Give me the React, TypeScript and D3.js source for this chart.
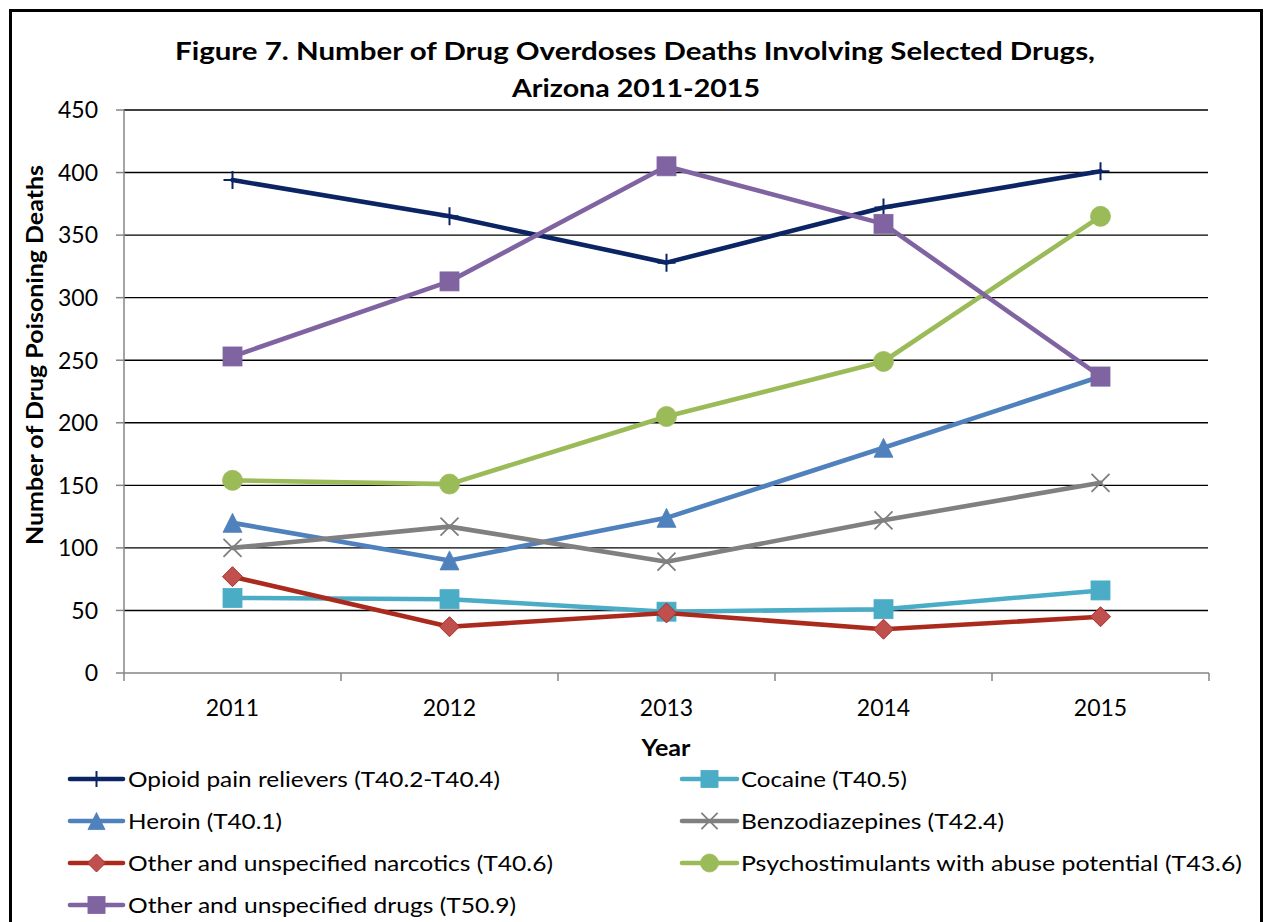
import React from "react";
import * as d3 from "d3";

// Categories and series values (deaths per year)
const years = ["2011", "2012", "2013", "2014", "2015"];
const yTicks = [0, 50, 100, 150, 200, 250, 300, 350, 400, 450];

const opioid = [394, 365, 328, 372, 401];
const cocaine = [60, 59, 49, 51, 66];
const heroin = [120, 90, 124, 180, 237];
const benzo = [100, 117, 89, 122, 152];
const narcotics = [77, 37, 48, 35, 45];
const psycho = [154, 151, 205, 249, 365];
const otherDrugs = [253, 313, 405, 359, 237];

const seriesNames = [
  "Opioid pain relievers (T40.2-T40.4)",
  "Cocaine (T40.5)",
  "Heroin (T40.1)",
  "Benzodiazepines (T42.4)",
  "Other and unspecified narcotics (T40.6)",
  "Psychostimulants with abuse potential (T43.6)",
  "Other and unspecified drugs (T50.9)",
];
const seriesValues = [opioid, cocaine, heroin, benzo, narcotics, psycho, otherDrugs];

type MarkerKind = "plus" | "square" | "triangle" | "x" | "diamond" | "circle";

const seriesStyle: { line: string; fill: string; stroke: string; marker: MarkerKind }[] = [
  { line: "#0B2464", fill: "none", stroke: "#0B2464", marker: "plus" },
  { line: "#4BACC6", fill: "#4BACC6", stroke: "#4BACC6", marker: "square" },
  { line: "#4F81BD", fill: "#4F81BD", stroke: "#4F81BD", marker: "triangle" },
  { line: "#808080", fill: "none", stroke: "#7F7F7F", marker: "x" },
  { line: "#AA2A1E", fill: "#C0504D", stroke: "#A8302A", marker: "diamond" },
  { line: "#9BBB59", fill: "#9BBB59", stroke: "#9BBB59", marker: "circle" },
  { line: "#8064A2", fill: "#8064A2", stroke: "#8064A2", marker: "square" },
];

// Legend layout: two columns, items filled row by row
const legendTextWidths = [372, 166, 154, 263, 425, 501, 388];

const FONT = "Lato, 'Open Sans', sans-serif";

function Marker({ kind, x, y, r, fill, stroke }: { kind: MarkerKind; x: number; y: number; r: number; fill: string; stroke: string }) {
  switch (kind) {
    case "plus":
      return (
        <path
          d={`M${x - r},${y}H${x + r}M${x},${y - r}V${y + r}`}
          stroke={stroke}
          strokeWidth={2}
          fill="none"
        />
      );
    case "x":
      return (
        <path
          d={`M${x - r},${y - r}L${x + r},${y + r}M${x - r},${y + r}L${x + r},${y - r}`}
          stroke={stroke}
          strokeWidth={1.8}
          fill="none"
        />
      );
    case "square":
      return <rect x={x - r} y={y - r} width={2 * r} height={2 * r} fill={fill} stroke={stroke} strokeWidth={0.8} />;
    case "triangle":
      return (
        <path d={`M${x},${y - r}L${x + r},${y + r}L${x - r},${y + r}Z`} fill={fill} stroke={stroke} strokeWidth={0.8} />
      );
    case "diamond":
      return (
        <path
          d={`M${x},${y - r}L${x + r},${y}L${x},${y + r}L${x - r},${y}Z`}
          fill={fill}
          stroke={stroke}
          strokeWidth={1}
        />
      );
    case "circle":
      return <circle cx={x} cy={y} r={r} fill={fill} stroke={stroke} strokeWidth={0.8} />;
  }
  return null;
}

export default function App() {
  const W = 1264;
  const H = 922;
  const plotLeft = 124;
  const plotRight = 1209;
  const plotTop = 110;
  const plotBottom = 673;

  const x = d3.scaleBand<string>().domain(years).range([plotLeft, plotRight]).padding(0);
  const y = d3.scaleLinear().domain([0, 450]).range([plotBottom, plotTop]);
  const cx = (yr: string) => (x(yr) as number) + x.bandwidth() / 2;

  const line = d3
    .line<number>()
    .x((_, i) => cx(years[i]))
    .y((d) => y(d));

  const markerR: Record<MarkerKind, number> = {
    plus: 9,
    x: 9,
    square: 9.5,
    triangle: 9.5,
    diamond: 10,
    circle: 10,
  };

  const boundaries = [...years.map((yr) => x(yr) as number), plotRight];

  const legendRowY = [779, 821, 863, 905];
  const legendCols = [
    { lineX0: 70, lineX1: 123, textX: 128 },
    { lineX0: 682, lineX1: 737, textX: 741 },
  ];

  return (
    <svg
      width={W}
      height={H}
      viewBox={`0 0 ${W} ${H}`}
      style={{ position: "absolute", left: 0, top: 0, background: "#fff" }}
      fontFamily={FONT}
    >
      <rect x={0} y={0} width={W} height={H} fill="#fff" />
      {/* outer frame */}
      <rect x={10.5} y={10.5} width={1251} height={1000} fill="none" stroke="#000" strokeWidth={3} />

      {/* title */}
      <text x={175} y={60} fontSize={25.5} fontWeight={700} textLength={920} lengthAdjust="spacingAndGlyphs">
        Figure 7. Number of Drug Overdoses Deaths Involving Selected Drugs,
      </text>
      <text x={512} y={97} fontSize={25.5} fontWeight={700} textLength={248} lengthAdjust="spacingAndGlyphs">
        Arizona 2011-2015
      </text>

      {/* horizontal gridlines */}
      {yTicks
        .filter((t) => t > 0)
        .map((t) => (
          <line key={`g${t}`} x1={plotLeft} x2={plotRight - 1} y1={y(t)} y2={y(t)} stroke="#000" strokeWidth={1.4} />
        ))}

      {/* y axis */}
      <line x1={plotLeft} x2={plotLeft} y1={plotTop} y2={plotBottom} stroke="#868686" strokeWidth={1.5} />
      {yTicks.map((t) => (
        <g key={`yt${t}`}>
          <line x1={plotLeft - 8} x2={plotLeft} y1={y(t)} y2={y(t)} stroke="#868686" strokeWidth={1.5} />
          <text x={98} y={y(t) + 8.3} fontSize={23} textAnchor="end" fill="#000">
            {t}
          </text>
        </g>
      ))}

      {/* x axis */}
      <line x1={plotLeft} x2={plotRight} y1={plotBottom} y2={plotBottom} stroke="#868686" strokeWidth={1.5} />
      {boundaries.map((b, i) => (
        <line key={`xt${i}`} x1={b} x2={b} y1={plotBottom} y2={plotBottom + 8} stroke="#868686" strokeWidth={1.5} />
      ))}
      {years.map((yr) => (
        <text key={`xl${yr}`} x={cx(yr)} y={716} fontSize={23} textAnchor="middle" fill="#000">
          {yr}
        </text>
      ))}

      {/* axis titles */}
      <text x={666} y={755.5} fontSize={22} fontWeight={700} textAnchor="middle" textLength={49} lengthAdjust="spacingAndGlyphs">
        Year
      </text>
      <text
        transform={`translate(43, 355) rotate(-90)`}
        fontSize={22}
        fontWeight={700}
        textAnchor="middle"
        textLength={380}
        lengthAdjust="spacingAndGlyphs"
      >
        Number of Drug Poisoning Deaths
      </text>

      {/* series lines and markers */}
      {seriesValues.map((vals, si) => {
        const st = seriesStyle[si];
        return (
          <g key={`s${si}`}>
            <path d={line(vals) || ""} fill="none" stroke={st.line} strokeWidth={4.6} strokeLinejoin="round" strokeLinecap="round" />
            {vals.map((v, i) => (
              <Marker
                key={i}
                kind={st.marker}
                x={cx(years[i])}
                y={y(v)}
                r={markerR[st.marker]}
                fill={st.fill}
                stroke={st.stroke}
              />
            ))}
          </g>
        );
      })}

      {/* legend */}
      {seriesNames.map((name, i) => {
        const col = legendCols[i % 2];
        const rowY = legendRowY[Math.floor(i / 2)];
        const st = seriesStyle[i];
        const mx = (col.lineX0 + col.lineX1) / 2;
        return (
          <g key={`lg${i}`}>
            <line x1={col.lineX0} x2={col.lineX1} y1={rowY} y2={rowY} stroke={st.line} strokeWidth={4.6} strokeLinecap="round" />
            <Marker kind={st.marker} x={mx} y={rowY} r={markerR[st.marker] * 0.9} fill={st.fill} stroke={st.stroke} />
            <text x={col.textX} y={rowY + 7.5} fontSize={21} textLength={legendTextWidths[i]} lengthAdjust="spacingAndGlyphs">
              {name}
            </text>
          </g>
        );
      })}
    </svg>
  );
}
